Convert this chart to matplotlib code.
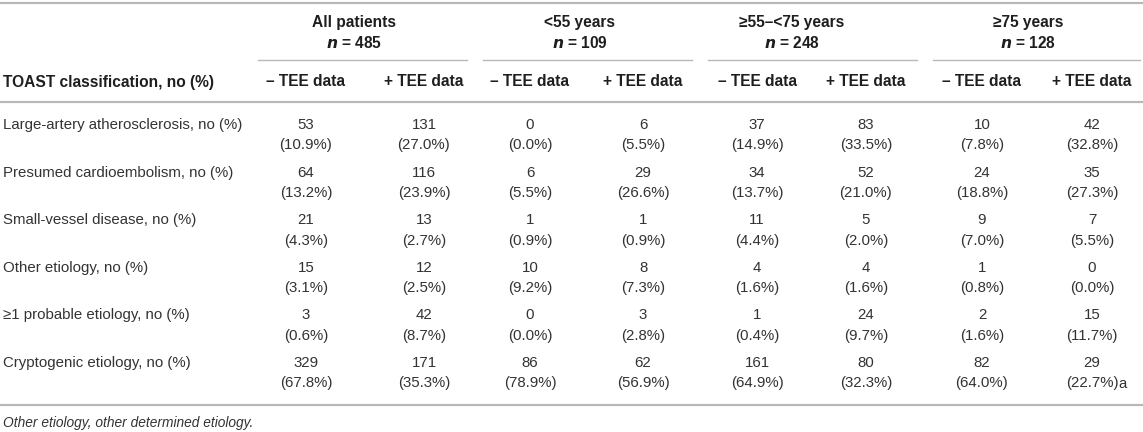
import matplotlib.pyplot as plt

plt.rcParams['font.family'] = ['Liberation Sans', 'DejaVu Sans']

# table content
groups = ['All patients', '<55 years', '\u226555\u2013<75 years', '\u226575 years']
group_n = [485, 109, 248, 128]
sub_headers = ['\u2013 TEE data', '+ TEE data']
row_labels = [
    'Large-artery atherosclerosis, no (%)',
    'Presumed cardioembolism, no (%)',
    'Small-vessel disease, no (%)',
    'Other etiology, no (%)',
    '\u22651 probable etiology, no (%)',
    'Cryptogenic etiology, no (%)',
]
counts = [
    [53, 131, 0, 6, 37, 83, 10, 42],
    [64, 116, 6, 29, 34, 52, 24, 35],
    [21, 13, 1, 1, 11, 5, 9, 7],
    [15, 12, 10, 8, 4, 4, 1, 0],
    [3, 42, 0, 3, 1, 24, 2, 15],
    [329, 171, 86, 62, 161, 80, 82, 29],
]
percents = [
    [10.9, 27.0, 0.0, 5.5, 14.9, 33.5, 7.8, 32.8],
    [13.2, 23.9, 5.5, 26.6, 13.7, 21.0, 18.8, 27.3],
    [4.3, 2.7, 0.9, 0.9, 4.4, 2.0, 7.0, 5.5],
    [3.1, 2.5, 9.2, 7.3, 1.6, 1.6, 0.8, 0.0],
    [0.6, 8.7, 0.0, 2.8, 0.4, 9.7, 1.6, 11.7],
    [67.8, 35.3, 78.9, 56.9, 64.9, 32.3, 64.0, 22.7],
]
# footnote marks on single cells: (row, col, mark)
cell_marks = [(5, 7, 'a')]
first_header = 'TOAST classification, no (%)'
footnote = 'Other etiology, other determined etiology.'

W, H = 1143, 432
fig = plt.figure(figsize=(W / 100, H / 100), dpi=100)
ax = fig.add_axes([0, 0, 1, 1])
ax.set_xlim(0, W)
ax.set_ylim(H, 0)
ax.axis('off')

txt_col = '#333333'
hdr_col = '#1e1e1e'
line_col = '#b8b8b8'
fs = 10.8
fs_hdr = 11.2

col_x = [306, 424, 530, 643, 757, 866, 982, 1092]
group_x = [354, 580, 792, 1028]
group_span = [(258, 467), (483, 692), (708, 917), (933, 1140)]
label_x = 3
row_y0, row_dy, pct_dy = 125, 47.6, 20.5

# rules
ax.plot([0, W], [3, 3], color=line_col, lw=1.6, solid_capstyle='butt')
for a, b in group_span:
    ax.plot([a, b], [60, 60], color=line_col, lw=1.0)
ax.plot([0, W], [102, 102], color=line_col, lw=1.6, solid_capstyle='butt')
ax.plot([0, W], [405, 405], color=line_col, lw=1.6, solid_capstyle='butt')

# group headers
for g, n, x in zip(groups, group_n, group_x):
    ax.text(x, 22, g, ha='center', va='center', fontsize=fs_hdr, fontweight='bold', color=hdr_col)
    ax.text(x, 43, r'$\mathbfit{n}$' + ' = %d' % n, ha='center', va='center',
            fontsize=fs_hdr, fontweight='bold', color=hdr_col)

# sub headers
ax.text(label_x, 82, first_header, ha='left', va='center', fontsize=fs_hdr,
        fontweight='bold', color=hdr_col)
for i, x in enumerate(col_x):
    ax.text(x, 82, sub_headers[i % 2], ha='center', va='center', fontsize=fs_hdr,
            fontweight='bold', color=hdr_col)

# body
cells = {}
for r, lab in enumerate(row_labels):
    y = row_y0 + r * row_dy
    ax.text(label_x, y, lab, ha='left', va='center', fontsize=fs, color=txt_col)
    for c, x in enumerate(col_x):
        ax.text(x, y, str(counts[r][c]), ha='center', va='center', fontsize=fs, color=txt_col)
        t = ax.text(x, y + pct_dy, '(%.1f%%)' % percents[r][c], ha='center', va='center',
                    fontsize=fs, color=txt_col)
        cells[(r, c)] = t

for r, c, m in cell_marks:
    ax.annotate(m, xy=(1, 0.5), xycoords=cells[(r, c)], ha='left', va='center',
                fontsize=fs, color=txt_col)

ax.text(label_x, 423, footnote, ha='left', va='center', fontsize=9.9,
        style='italic', color=txt_col)

fig.savefig('out.png', dpi=100, facecolor='white')
